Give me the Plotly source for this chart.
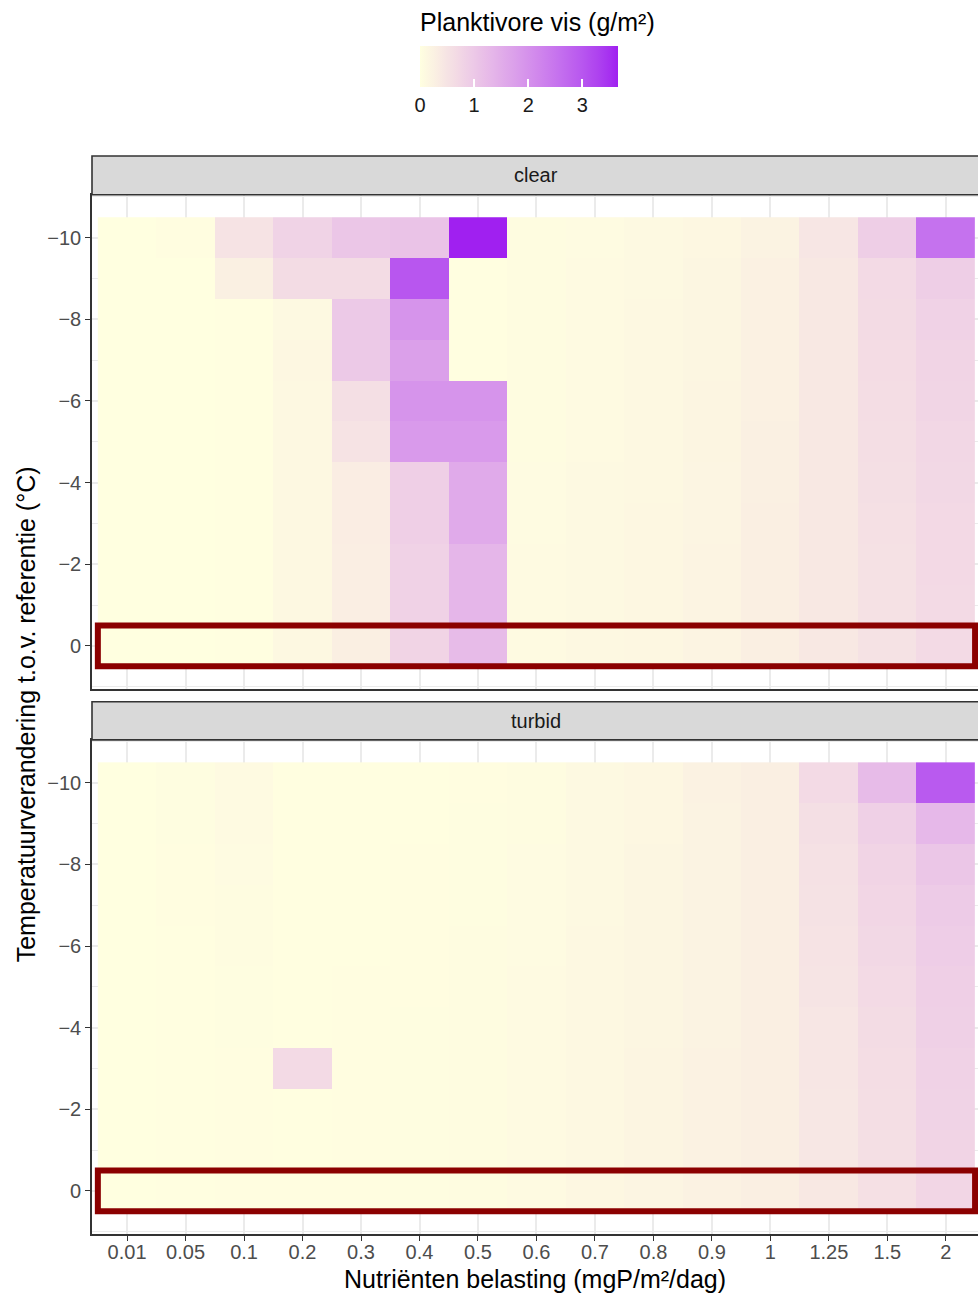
import numpy as np
import plotly.graph_objects as go

# ---------------- data ----------------
loads = ["0.01", "0.05", "0.1", "0.2", "0.3", "0.4", "0.5", "0.6",
         "0.7", "0.8", "0.9", "1", "1.25", "1.5", "2"]
temps = [-10, -9, -8, -7, -6, -5, -4, -3, -2, -1, 0]
reference_temp = 0

clear = [
    [0.00, 0.03, 0.50, 0.80, 1.05, 1.10, 3.66, 0.05, 0.07, 0.10, 0.14, 0.22, 0.45, 0.90, 2.55],
    [0.00, 0.00, 0.28, 0.65, 0.65, 3.00, 0.02, 0.05, 0.08, 0.11, 0.16, 0.26, 0.42, 0.68, 0.90],
    [0.00, 0.00, 0.02, 0.10, 1.00, 1.95, 0.02, 0.05, 0.08, 0.12, 0.17, 0.26, 0.42, 0.66, 0.82],
    [0.00, 0.00, 0.02, 0.14, 1.00, 1.75, 0.02, 0.05, 0.08, 0.12, 0.17, 0.27, 0.42, 0.64, 0.78],
    [0.00, 0.00, 0.02, 0.12, 0.58, 1.95, 1.95, 0.06, 0.09, 0.12, 0.18, 0.27, 0.42, 0.62, 0.76],
    [0.00, 0.00, 0.02, 0.12, 0.50, 1.85, 1.85, 0.06, 0.09, 0.13, 0.18, 0.28, 0.42, 0.60, 0.74],
    [0.00, 0.00, 0.02, 0.12, 0.33, 0.88, 1.55, 0.07, 0.10, 0.13, 0.19, 0.28, 0.42, 0.58, 0.72],
    [0.00, 0.00, 0.02, 0.12, 0.33, 0.88, 1.55, 0.07, 0.10, 0.14, 0.19, 0.29, 0.42, 0.56, 0.70],
    [0.00, 0.00, 0.02, 0.12, 0.32, 0.82, 1.35, 0.08, 0.11, 0.14, 0.20, 0.29, 0.42, 0.55, 0.70],
    [0.00, 0.00, 0.02, 0.12, 0.32, 0.82, 1.35, 0.08, 0.11, 0.15, 0.20, 0.30, 0.42, 0.54, 0.68],
    [0.00, 0.00, 0.02, 0.12, 0.30, 0.78, 1.25, 0.09, 0.12, 0.15, 0.21, 0.30, 0.42, 0.52, 0.68],
]

turbid = [
    [0.00, 0.04, 0.09, 0.02, 0.02, 0.02, 0.03, 0.06, 0.10, 0.15, 0.24, 0.30, 0.68, 1.25, 2.95],
    [0.00, 0.04, 0.08, 0.02, 0.02, 0.02, 0.04, 0.06, 0.10, 0.15, 0.22, 0.30, 0.58, 0.85, 1.30],
    [0.00, 0.03, 0.07, 0.02, 0.02, 0.03, 0.04, 0.07, 0.11, 0.16, 0.22, 0.30, 0.54, 0.78, 1.05],
    [0.00, 0.03, 0.06, 0.02, 0.02, 0.03, 0.04, 0.07, 0.11, 0.16, 0.22, 0.30, 0.52, 0.75, 0.95],
    [0.00, 0.02, 0.05, 0.02, 0.02, 0.03, 0.05, 0.07, 0.12, 0.17, 0.23, 0.30, 0.50, 0.72, 0.92],
    [0.00, 0.02, 0.04, 0.02, 0.03, 0.03, 0.05, 0.08, 0.12, 0.17, 0.23, 0.30, 0.48, 0.68, 0.88],
    [0.00, 0.02, 0.04, 0.02, 0.03, 0.04, 0.05, 0.08, 0.12, 0.17, 0.23, 0.30, 0.46, 0.65, 0.85],
    [0.00, 0.02, 0.03, 0.68, 0.03, 0.04, 0.06, 0.08, 0.13, 0.18, 0.24, 0.30, 0.45, 0.62, 0.82],
    [0.00, 0.02, 0.03, 0.02, 0.03, 0.04, 0.06, 0.09, 0.13, 0.18, 0.24, 0.30, 0.44, 0.60, 0.80],
    [0.00, 0.02, 0.03, 0.02, 0.03, 0.04, 0.06, 0.09, 0.13, 0.18, 0.24, 0.30, 0.43, 0.58, 0.78],
    [0.00, 0.02, 0.03, 0.03, 0.03, 0.04, 0.06, 0.09, 0.14, 0.19, 0.24, 0.30, 0.42, 0.56, 0.75],
]

panel_names = ["clear", "turbid"]
panel_values = [clear, turbid]

colorbar_ticks = [0, 1, 2, 3]
ytick_vals = [-10, -8, -6, -4, -2, 0]

# ---------------- colour scale (Lab interpolation like ggplot) ----------------
LOW, HIGH = "#FFFFE0", "#A020F0"
M = np.array([[0.4124564, 0.3575761, 0.1804375],
              [0.2126729, 0.7151522, 0.0721750],
              [0.0193339, 0.1191920, 0.9503041]])
Minv = np.linalg.inv(M)
WP = np.array([0.95047, 1.0, 1.08883])
D = 6 / 29


def hex_to_lab(h):
    rgb = np.array([int(h[i:i + 2], 16) / 255 for i in (1, 3, 5)])
    lin = np.where(rgb <= 0.04045, rgb / 12.92, ((rgb + 0.055) / 1.055) ** 2.4)
    xyz = M @ lin / WP
    f = np.where(xyz > D ** 3, np.cbrt(xyz), xyz / (3 * D * D) + 4 / 29)
    return np.array([116 * f[1] - 16, 500 * (f[0] - f[1]), 200 * (f[1] - f[2])])


def lab_to_hex(lab):
    L, a, b = lab
    fy = (L + 16) / 116
    fx = fy + a / 500
    fz = fy - b / 200
    f = np.array([fx, fy, fz])
    xyz = np.where(f > D, f ** 3, 3 * D * D * (f - 4 / 29)) * WP
    lin = np.clip(Minv @ xyz, 0, 1)
    rgb = np.where(lin <= 0.0031308, 12.92 * lin, 1.055 * lin ** (1 / 2.4) - 0.055)
    rgb = np.clip(np.round(rgb * 255), 0, 255).astype(int)
    return "#%02X%02X%02X" % tuple(rgb)


lab_lo, lab_hi = hex_to_lab(LOW), hex_to_lab(HIGH)
colorscale = [[t, lab_to_hex(lab_lo + (lab_hi - lab_lo) * t)] for t in np.linspace(0, 1, 31)]

all_vals = np.array(clear + turbid)
zmin, zmax = float(all_vals.min()), float(all_vals.max())

# ---------------- layout geometry (pixels) ----------------
W, H = 978, 1298
FONT = "Liberation Sans, Arial, sans-serif"
panel_left = 92
panels_px = [(194.8, 688.8), (739.9, 1233.8)]   # top, bottom
strips_px = [(156.0, 194.8), (701.7, 739.9)]


def py(p):
    return 1 - p / H


fig = go.Figure()

for i, (name, vals) in enumerate(zip(panel_names, panel_values)):
    sfx = "" if i == 0 else str(i + 1)
    fig.add_trace(go.Heatmap(
        x=loads, y=temps, z=vals,
        coloraxis="coloraxis",
        xaxis="x" + sfx, yaxis="y" + sfx,
        xgap=0, ygap=0,
        hovertemplate="%{x}, %{y}: %{z}<extra>" + name + "</extra>",
    ))

n = len(loads)
x_range = [-0.6, n - 0.45]
y_range = [temps[-1] + 0.5 + 0.55, temps[0] - 0.5 - 0.55]

layout = dict(
    width=W, height=H,
    margin=dict(l=0, r=0, t=0, b=0),
    paper_bgcolor="white", plot_bgcolor="white",
    font=dict(family=FONT, color="black"),
    showlegend=False,
    coloraxis=dict(
        colorscale=colorscale, cmin=zmin, cmax=zmax,
        colorbar=dict(
            orientation="h",
            lenmode="pixels", len=198,
            thicknessmode="pixels", thickness=41,
            x=519 / W, xanchor="center",
            y=py(46), yanchor="top",
            xpad=0, ypad=0,
            outlinewidth=0,
            tickvals=colorbar_ticks,
            ticks="inside", tickcolor="white", ticklen=8, tickwidth=1.5,
            tickfont=dict(size=20, color="#1A1A1A", family=FONT),
            title=dict(text=""),
        ),
    ),
)

for i in range(2):
    sfx = "" if i == 0 else str(i + 1)
    top, bot = panels_px[i]
    bottom_panel = (i == 1)
    layout["xaxis" + sfx] = dict(
        domain=[panel_left / W, 1.0],
        anchor="y" + sfx,
        type="category",
        range=x_range,
        showgrid=True, gridcolor="#EBEBEB", gridwidth=1.6,
        showline=True, linecolor="#333333", linewidth=1.6, mirror=True,
        zeroline=False,
        ticks="outside" if bottom_panel else "",
        ticklen=5, tickwidth=1.4, tickcolor="#333333",
        showticklabels=bottom_panel,
        ticklabelstandoff=-6,
        tickfont=dict(size=20, color="#4D4D4D", family=FONT),
        title=dict(text="Nutriënten belasting (mgP/m²/dag)" if bottom_panel else "",
                   font=dict(size=25, color="black", family=FONT), standoff=9),
        fixedrange=True,
    )
    layout["yaxis" + sfx] = dict(
        domain=[py(bot), py(top)],
        anchor="x" + sfx,
        range=y_range,
        tickvals=ytick_vals,
        showgrid=True, gridcolor="#EBEBEB", gridwidth=1.6,
        minor=dict(tickvals=[v for v in range(-11, 2) if v % 2 != 0],
                   showgrid=True, gridcolor="#EBEBEB", gridwidth=0.8, ticks=""),
        showline=True, linecolor="#333333", linewidth=1.6, mirror=False,
        zeroline=False,
        ticks="outside", ticklen=5, tickwidth=1.4, tickcolor="#333333",
        tickfont=dict(size=20, color="#4D4D4D", family=FONT),
        fixedrange=True,
    )

shapes = []
annotations = []
for i, name in enumerate(panel_names):
    sfx = "" if i == 0 else str(i + 1)
    s_top, s_bot = strips_px[i]
    shapes.append(dict(type="rect", xref="paper", yref="paper",
                       x0=panel_left / W, x1=1.02, y0=py(s_bot), y1=py(s_top),
                       fillcolor="#D9D9D9", line=dict(color="#333333", width=1.6),
                       layer="above"))
    annotations.append(dict(text=name, xref="x" + sfx, yref="paper",
                            x=(n - 1) / 2, y=py((s_top + s_bot) / 2),
                            showarrow=False, xanchor="center", yanchor="middle",
                            font=dict(size=20, color="#1A1A1A", family=FONT)))
    # highlight the reference-temperature row
    shapes.append(dict(type="rect", xref="x" + sfx, yref="y" + sfx,
                       x0=-0.5, x1=n - 0.5,
                       y0=reference_temp - 0.5, y1=reference_temp + 0.5,
                       line=dict(color="#8B0000", width=6),
                       fillcolor="rgba(0,0,0,0)", layer="above"))

annotations.append(dict(text="Temperatuurverandering t.o.v. referentie (°C)",
                        xref="paper", yref="paper",
                        x=26 / W, y=py((panels_px[0][0] + panels_px[1][1]) / 2),
                        textangle=-90, showarrow=False,
                        xanchor="center", yanchor="middle",
                        font=dict(size=25, color="black", family=FONT)))
annotations.append(dict(text="Planktivore vis (g/m²)",
                        xref="paper", yref="paper",
                        x=418 / W, y=py(22),
                        showarrow=False, xanchor="left", yanchor="middle",
                        font=dict(size=25, color="black", family=FONT)))

layout["shapes"] = shapes
layout["annotations"] = annotations
fig.update_layout(**layout)

fig.write_html("out.html")
